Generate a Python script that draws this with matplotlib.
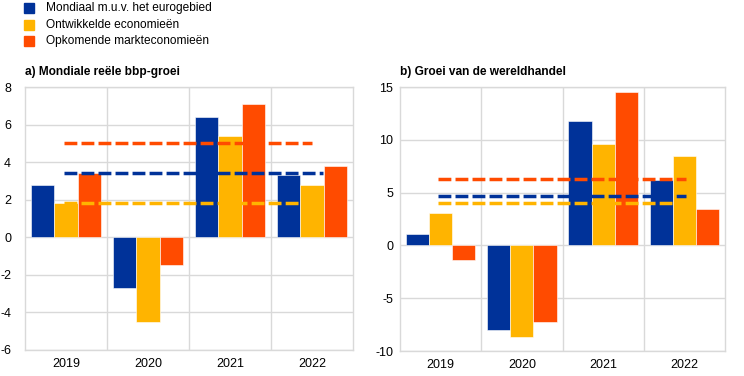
import matplotlib
matplotlib.use("Agg")
import matplotlib.pyplot as plt
import numpy as np
from matplotlib.patches import Rectangle

plt.rcParams['font.family'] = ['Liberation Sans', 'DejaVu Sans']

years = ["2019", "2020", "2021", "2022"]
series_names = ["Mondiaal m.u.v. het eurogebied", "Ontwikkelde economieën", "Opkomende markteconomieën"]
colors = ["#003299", "#FFB400", "#FF4B00"]

gdp_world = [2.8, -2.7, 6.4, 3.3]
gdp_adv = [1.8, -4.5, 5.4, 2.8]
gdp_eme = [3.4, -1.5, 7.1, 3.8]
gdp_avg = [3.4, 1.8, 5.0]  # world, advanced, emerging long-term averages

trade_world = [1.1, -8.0, 11.8, 6.2]
trade_adv = [3.1, -8.7, 9.6, 8.5]
trade_eme = [-1.4, -7.3, 14.5, 3.4]
trade_avg = [4.7, 4.0, 6.3]

W, H = 744, 376
fig = plt.figure(figsize=(W / 100, H / 100), dpi=100)

def panel(rect, data, avgs, ends, ylim, yticks, title):
    ax = fig.add_axes(rect)
    x = np.arange(len(years))
    bw = 0.285
    for i, (vals, c) in enumerate(zip(data, colors)):
        ax.bar(x + (i - 1) * bw, vals, width=bw, color=c, edgecolor="white",
               linewidth=0.4, zorder=2)
    for avg, c, end in zip(avgs, colors, ends):
        ax.plot([-0.03, end], [avg, avg], color=c, linestyle=(0, (3.7, 1.2)),
                linewidth=2.5, zorder=3, dash_capstyle='butt')
    ax.set_xlim(-0.5, 3.5)
    ax.set_ylim(*ylim)
    ax.set_yticks(yticks)
    ax.set_yticklabels([str(t) for t in yticks])
    ax.set_xticks(x)
    ax.set_xticklabels(years)
    ax.set_xticks([0.5, 1.5, 2.5], minor=True)
    ax.grid(True, which="major", axis="y", color="#d9d9d9", linewidth=1, zorder=0)
    ax.grid(True, which="minor", axis="x", color="#d9d9d9", linewidth=1, zorder=0)
    ax.tick_params(which="both", length=0, labelsize=9, colors="black")
    ax.tick_params(axis="x", pad=6)
    for s in ax.spines.values():
        s.set_color("#d9d9d9")
        s.set_linewidth(1)
    ax.set_axisbelow(True)
    fig.text(rect[0] - 0.0005, rect[1] + rect[3] + 0.025, title, fontsize=8.6,
             fontweight="bold", ha="left", va="bottom")
    return ax

axL = panel([25 / W, 1 - 350 / H, 328 / W, 263 / H],
            [gdp_world, gdp_adv, gdp_eme], gdp_avg, [3.14, 2.85, 3.0],
            (-6, 8), list(range(-6, 9, 2)), "a) Mondiale reële bbp-groei")
axL.tick_params(axis="y", pad=10)

axR = panel([400 / W, 1 - 351 / H, 325 / W, 264 / H],
            [trade_world, trade_adv, trade_eme], trade_avg, [3.02, 2.86, 3.02],
            (-10, 15), list(range(-10, 16, 5)), "b) Groei van de wereldhandel")
axR.tick_params(axis="y", pad=5)

# legend
for i, (name, c) in enumerate(zip(series_names, colors)):
    yc = 8 + i * 16.5
    fig.patches.append(Rectangle((24 / W, 1 - (yc + 5) / H), 10 / W, 10 / H,
                                 transform=fig.transFigure, color=c))
    fig.text(46 / W, 1 - yc / H, name, fontsize=8.6, ha="left", va="center")

fig.savefig("out.png", dpi=100)
